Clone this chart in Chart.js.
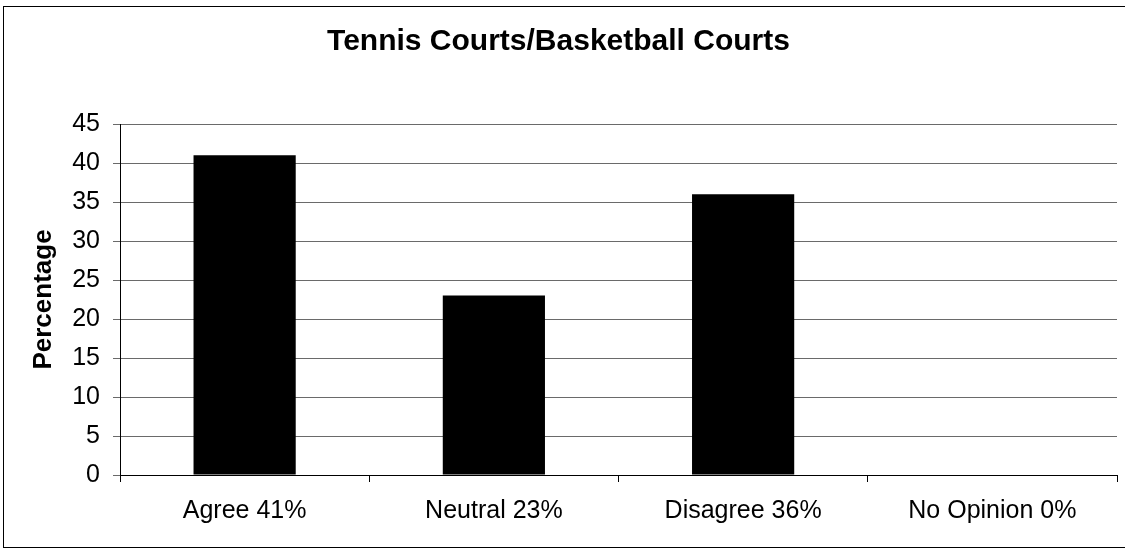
<!DOCTYPE html>
<html>
<head>
<meta charset="utf-8">
<script src="https://cdn.jsdelivr.net/npm/chart.js@4"></script>
<style>
  html, body { margin: 0; padding: 0; background: #fff; }
  #wrap { position: relative; width: 1125px; height: 551px; }
</style>
</head>
<body>
<div id="wrap"><canvas id="c" width="1125" height="551"></canvas></div>
<script>
const categories = ['Agree 41%', 'Neutral 23%', 'Disagree 36%', 'No Opinion 0%'];
const percentages = [41, 23, 36, 0];
const chartTitle = 'Tennis Courts/Basketball Courts';
const yAxisTitle = 'Percentage';
const yMin = 0, yMax = 45, yStep = 5;

const FONT = '"Liberation Sans", Arial, sans-serif';
const GRID = '#6a6a6a';

const framePlugin = {
  id: 'frame',
  afterDraw(chart) {
    const ctx = chart.ctx;
    ctx.save();
    ctx.strokeStyle = '#000';
    ctx.lineWidth = 1;
    ctx.strokeRect(3.5, 6.5, 1130, 541);
    ctx.restore();
  }
};

const chart = new Chart(document.getElementById('c'), {
  type: 'bar',
  data: {
    labels: categories,
    datasets: [{
      data: percentages,
      backgroundColor: '#000',
      borderWidth: 0,
      categoryPercentage: 1,
      barPercentage: 0.41
    }]
  },
  options: {
    responsive: false,
    animation: false,
    layout: { padding: { left: 0, right: 8, top: 0, bottom: 0 } },
    plugins: {
      legend: { display: false },
      tooltip: { enabled: false },
      title: {
        display: true,
        text: chartTitle,
        color: '#000',
        font: { family: FONT, size: 30, weight: 'bold', lineHeight: 1.2 },
        padding: { top: 24, bottom: 64 }
      }
    },
    scales: {
      x: {
        grid: {
          offset: true,
          drawOnChartArea: true,
          color: (c) => (c.index === categories.length ? GRID : 'rgba(0,0,0,0)'),
          tickColor: '#000',
          tickLength: 7,
          lineWidth: 1
        },
        border: { display: true, color: '#000', width: 1 },
        ticks: {
          color: '#000',
          font: { family: FONT, size: 25, lineHeight: 1.2 },
          padding: 14,
          maxRotation: 0,
          autoSkip: false
        },
        afterFit(scale) { scale.height = 76; }
      },
      y: {
        min: yMin,
        max: yMax,
        grid: {
          color: GRID,
          tickColor: GRID,
          tickLength: 7,
          lineWidth: 1
        },
        border: { display: true, color: '#000', width: 1 },
        ticks: {
          stepSize: yStep,
          color: '#000',
          font: { family: FONT, size: 25, lineHeight: 1.2 },
          padding: 13
        },
        title: {
          display: true,
          text: yAxisTitle,
          color: '#000',
          font: { family: FONT, size: 26, weight: 'bold', lineHeight: 1.2 },
          padding: { top: 28, bottom: 0 }
        },
        afterFit(scale) { scale.width = 120; }
      }
    }
  },
  plugins: [framePlugin]
});
</script>
</body>
</html>
